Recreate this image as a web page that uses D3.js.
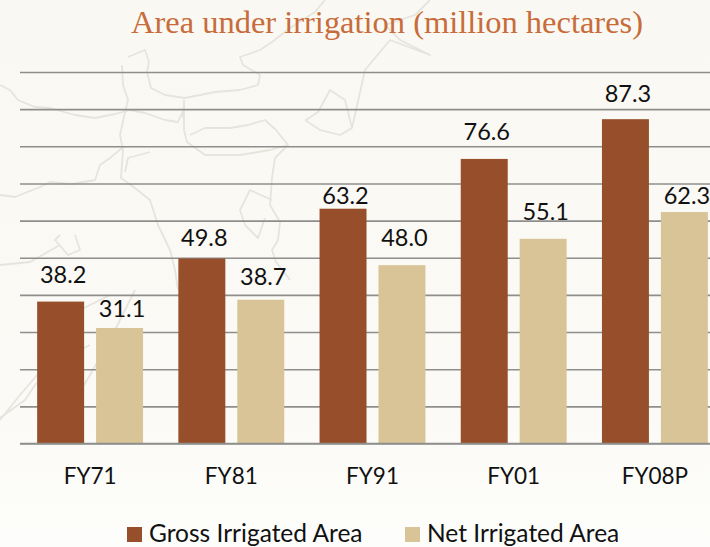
<!DOCTYPE html>
<html>
<head>
<meta charset="utf-8">
<script src="https://cdn.jsdelivr.net/npm/d3@7"></script>
<style>
  html, body { margin: 0; padding: 0; background: #fdfcfa; overflow: hidden; }
  svg { display: block; }
  text { font-family: Lato, "Open Sans", sans-serif; fill: #111; }
</style>
</head>
<body>
<svg></svg>
<script>
var width = 710;
var height = 547;

var years = ['FY71', 'FY81', 'FY91', 'FY01', 'FY08P'];
var gross = [38.2, 49.8, 63.2, 76.6, 87.3];
var net = [31.1, 38.7, 48.0, 55.1, 62.3];
var seriesNames = ['Gross Irrigated Area', 'Net Irrigated Area'];
var seriesColors = ['#964f2a', '#d9c497'];
var yTicks = d3.range(0, 101, 10);

// how far each value label sits above its bar, the source nudged them by hand
var grossLift = [19, 12, 5, 19, 17];
var netLift = [11, 15, 19, 19, 8];

var svg = d3.select('svg').attr('width', width).attr('height', height);

var defs = svg.append('defs');
var bg = defs.append('linearGradient').attr('id', 'bg').attr('x2', 0).attr('y2', 1);
bg.append('stop').attr('offset', '0').attr('stop-color', '#faf8f3');
bg.append('stop').attr('offset', '0.75').attr('stop-color', '#fbfaf6');
bg.append('stop').attr('offset', '1').attr('stop-color', '#fdfdfb');
svg.append('rect').attr('width', width).attr('height', height).attr('fill', 'url(#bg)');
defs.append('filter').attr('id', 'soft')
  .append('feGaussianBlur').attr('stdDeviation', 0.6);

// faint map in the background, traced roughly
var mapLines = [
  'M0,85 L10,90 L18,100 L35,107 L50,108 L75,115 L95,118 L115,114 L130,110 L145,113 L165,120 L178,122 L183,111 L183,118',
  'M128,57 L145,50 L149,62 L147,72 L151,88 L165,95 L185,98 L215,92 L240,90 L258,85 L260,75 L243,65 L240,57 L260,50 L272,42 L290,28 L315,12 L325,0',
  'M122,65 L123,85 L128,100 L125,112 L120,135 L123,150 L121,178 L135,188 L150,200 L158,225 L170,250 L175,270 L178,290',
  'M122,148 L110,158 L100,165 L95,180 L72,184 L50,182 L40,187 L15,197 L0,195',
  'M150,152 L128,158 L125,172',
  'M184,100 L184,130 L187,142 L205,155 L240,155 L270,150 L288,145 L276,130 L265,120 L248,125 L230,128 L205,128 L190,135',
  'M288,145 L275,158 L272,178 L270,205 L280,222 L278,240 L272,250 L276,262 L290,280',
  'M272,200 L250,190 L240,210 L245,225 L258,238 L265,218',
  'M305,120 L320,130 L340,135 L352,128 L345,100 L330,90 L318,112 L306,120',
  'M352,128 L365,70 L390,40 L430,55 L400,40 L385,25 L415,15 L430,0',
  'M60,235 L55,240 L68,255 L80,250 L75,235',
  'M0,265 L30,262 L60,245',
  'M110,295 L80,310 L50,360 L20,395 L0,420',
  'M135,290 L110,340 L90,375 L75,400',
  'M0,418 L25,400 L35,385 L60,360 L90,345'
];
svg.append('g').attr('filter', 'url(#soft)')
  .selectAll('path').data(mapLines).enter().append('path')
    .attr('d', d => d)
    .attr('fill', 'none')
    .attr('stroke', '#e6e4de')
    .attr('stroke-width', 1.8)
    .attr('stroke-linejoin', 'round');

var x0 = d3.scaleBand()
    .domain(years)
    .range([19.5, 725.5])
    .paddingInner(0.25)
    .paddingOuter(0.125);

var x1 = d3.scaleBand()
    .domain(seriesNames)
    .range([0, x0.bandwidth()])
    .paddingInner(0.203);

var yScale = d3.scaleLinear()
    .domain([0, 100])
    .range([443.5, 72]);

var yAxis = d3.axisLeft(yScale)
    .tickValues(yTicks)
    .tickSize(-(width - 20))
    .tickFormat('');

var gridG = svg.append('g')
    .attr('transform', 'translate(20,0)')
    .call(yAxis);
gridG.select('.domain').remove();
gridG.selectAll('.tick line')
    .attr('stroke', '#8e8e8c')
    .attr('stroke-width', 1.6);

var groups = svg.selectAll('.group')
    .data(years)
    .enter()
    .append('g')
      .classed('group', true)
      .attr('transform', d => 'translate(' + x0(d) + ',0)');

function drawSeries(values, lift, idx) {
  groups.append('rect')
      .attr('x', x1(seriesNames[idx]))
      .attr('y', (d, i) => yScale(values[i]))
      .attr('width', x1.bandwidth())
      .attr('height', (d, i) => yScale(0) - yScale(values[i]))
      .attr('fill', seriesColors[idx]);

  groups.append('text')
      .attr('x', x1(seriesNames[idx]) + x1.bandwidth() / 2 + 2.5)
      .attr('y', (d, i) => yScale(values[i]) - lift[i])
      .attr('text-anchor', 'middle')
      .style('font-size', '23.5px')
      .text((d, i) => values[i].toFixed(1));
}
drawSeries(gross, grossLift, 0);
drawSeries(net, netLift, 1);

// the baseline sits on top of the bars' feet
svg.append('line')
    .attr('x1', 20).attr('x2', width)
    .attr('y1', yScale(0)).attr('y2', yScale(0))
    .attr('stroke', '#8e8e8c')
    .attr('stroke-width', 1.6);

var xAxis = d3.axisBottom(x0).tickSize(0).tickPadding(25);
var xG = svg.append('g')
    .attr('transform', 'translate(0,' + yScale(0) + ')')
    .call(xAxis);
xG.select('.domain').remove();
xG.selectAll('text')
    .style('font-family', 'Lato, "Open Sans", sans-serif')
    .style('font-size', '22.5px')
    .attr('fill', '#111');

svg.append('text')
    .attr('x', 387)
    .attr('y', 33)
    .attr('text-anchor', 'middle')
    .style('font-family', '"Liberation Serif", "DejaVu Serif", serif')
    .style('font-size', '32px')
    .style('fill', '#c76c3a')
    .attr('textLength', 512)
    .attr('lengthAdjust', 'spacingAndGlyphs')
    .text('Area under irrigation (million hectares)');

var legendX = [127, 405];
var legend = svg.selectAll('.legend')
    .data(seriesNames)
    .enter()
    .append('g')
      .classed('legend', true)
      .attr('transform', (d, i) => 'translate(' + legendX[i] + ',527)');
legend.append('rect')
    .attr('width', 15)
    .attr('height', 15)
    .attr('fill', (d, i) => seriesColors[i]);
legend.append('text')
    .attr('x', 22)
    .attr('y', 15)
    .style('font-size', '24.5px')
    .text(d => d);
</script>
</body>
</html>
